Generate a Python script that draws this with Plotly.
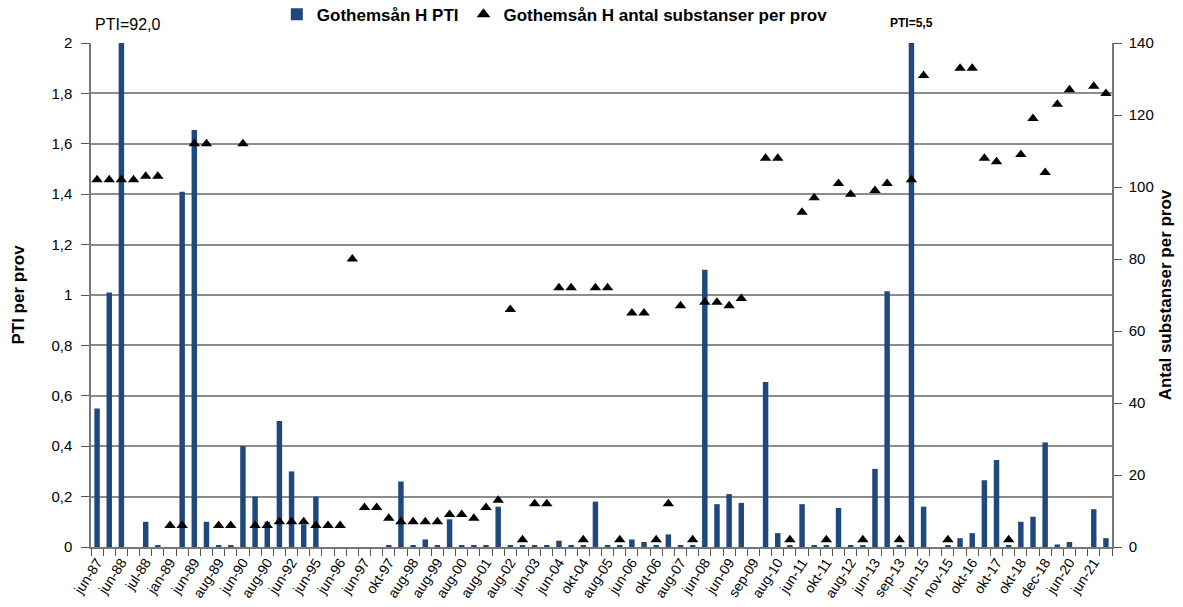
import plotly.graph_objects as go

categories = [
    "jun-87", "aug-87", "jun-88", "jun-88 (2)", "jul-88", "aug-88", "jan-89", "maj-89",
    "jun-89", "jul-89", "aug-89", "sep-89", "jun-90", "jul-90", "aug-90", "sep-90",
    "jun-92", "aug-92", "jun-95", "aug-95", "jun-96", "aug-96", "jun-97", "aug-97",
    "okt-97", "jun-98", "aug-98", "jun-99", "aug-99", "jun-00", "aug-00", "jun-01",
    "aug-01", "jun-02", "aug-02", "okt-02", "jun-03", "aug-03", "jun-04", "aug-04",
    "okt-04", "jun-05", "aug-05", "okt-05", "jun-06", "aug-06", "okt-06", "jun-07",
    "aug-07", "okt-07", "jun-08", "aug-08", "jun-09", "aug-09", "sep-09", "jun-10",
    "aug-10", "okt-10", "jun-11", "aug-11", "okt-11", "jun-12", "aug-12", "okt-12",
    "jun-13", "aug-13", "sep-13", "jun-14", "jun-15", "aug-15", "nov-15", "jun-16",
    "okt-16", "jun-17", "okt-17", "jun-18", "okt-18", "nov-18", "dec-18", "jun-19",
    "jun-20", "okt-20", "jun-21", "aug-21",
]

# tick labels shown on the axis (every other sample)
tick_labels = [c if i % 2 == 0 else "" for i, c in enumerate(categories)]

pti = [
    0.55, 1.01, 92.0, None, 0.10, 0.005, None, 1.41,
    1.655, 0.10, 0.005, 0.004, 0.40, 0.20, 0.10, 0.50,
    0.30, 0.09, 0.20, None, None, None, None, None,
    0.005, 0.26, 0.005, 0.03, 0.005, 0.11, 0.005, 0.005,
    0.005, 0.16, 0.005, 0.005, 0.005, 0.005, 0.025, 0.005,
    0.005, 0.18, 0.005, 0.005, 0.03, 0.02, 0.005, 0.05,
    0.004, 0.005, 1.10, 0.17, 0.21, 0.175, None, 0.655,
    0.055, 0.005, 0.17, 0.005, 0.005, 0.155, 0.004, 0.005,
    0.31, 1.015, 0.005, 5.5, 0.16, None, 0.005, 0.035,
    0.055, 0.265, 0.345, 0.005, 0.10, 0.12, 0.415, 0.01,
    0.02, None, 0.15, 0.035,
]

antal = [
    102, 102, 102, 102, 103, 103, 6, 6,
    112, 112, 6, 6, 112, 6, 6, 7,
    7, 7, 6, 6, 6, 80, 11, 11,
    8, 7, 7, 7, 7, 9, 9, 8,
    11, 13, 66, 2, 12, 12, 72, 72,
    2, 72, 72, 2, 65, 65, 2, 12,
    67, 2, 68, 68, 67, 69, None, 108,
    108, 2, 93, 97, 2, 101, 98, 2,
    99, 101, 2, 102, 131, None, 2, 133,
    133, 108, 107, 2, 109, 119, 104, 123,
    127, None, 128, 126,
]

FONT = "Liberation Sans, Arial, sans-serif"
GRID = "#8c8c8c"

fig = go.Figure()
fig.add_trace(go.Bar(
    x=categories, y=pti, name="<b>Gothemsån H PTI</b>",
    marker=dict(color="#1F497D", line=dict(width=0)),
    width=0.45, yaxis="y",
))
fig.add_trace(go.Scatter(
    x=categories, y=antal, name="<b>Gothemsån H antal substanser per prov</b>",
    mode="markers", marker=dict(symbol="triangle-up", size=10, color="black"),
    yaxis="y2", cliponaxis=False,
))

fig.update_layout(
    width=1183, height=607, autosize=False,
    margin=dict(l=91, r=71, t=43, b=60, autoexpand=False),
    paper_bgcolor="white", plot_bgcolor="white",
    separators=", ",
    font=dict(family=FONT, size=15, color="black"),
    showlegend=True,
    legend=dict(
        orientation="h", x=0.182, y=1.056, xanchor="left", yanchor="middle",
        font=dict(family=FONT, size=17, color="black"),
        bgcolor="rgba(0,0,0,0)", itemsizing="constant",
    ),
    xaxis=dict(
        type="category", range=[-0.5, len(categories) - 0.5],
        tickmode="array", tickvals=categories, ticktext=tick_labels,
        tickson="boundaries", ticks="outside", ticklen=7, tickcolor="#555",
        tickangle=-57, tickfont=dict(size=14),
        showline=True, linecolor="#777", linewidth=1.5, showgrid=False,
    ),
    yaxis=dict(
        range=[0, 2], dtick=0.2, tick0=0,
        showgrid=True, gridcolor=GRID, gridwidth=1.5,
        showline=True, linecolor="#777", linewidth=1.5,
        ticks="outside", ticklen=8, tickcolor="#555", ticklabelstandoff=6,
        tickfont=dict(size=15), zeroline=False,
        title=dict(text="<b>PTI per prov</b>", font=dict(size=17), standoff=22),
    ),
    yaxis2=dict(
        range=[0, 140], dtick=20, tick0=0,
        overlaying="y", side="right", showgrid=False,
        showline=True, linecolor="#777", linewidth=1.5,
        ticks="outside", ticklen=8, tickcolor="#555", ticklabelstandoff=4,
        tickfont=dict(size=15), zeroline=False,
        title=dict(text="<b>Antal substanser per prov</b>", font=dict(size=17), standoff=6),
    ),
    bargap=0.55,
    annotations=[
        dict(text="PTI=92,0", xref="paper", yref="paper", x=0.002, y=1.036,
             xanchor="left", yanchor="middle", showarrow=False,
             font=dict(family=FONT, size=16, color="black")),
        dict(text="<b>PTI=5,5</b>", xref="x", yref="paper", x=categories[67], y=1.04,
             xanchor="center", yanchor="middle", showarrow=False,
             font=dict(family=FONT, size=12, color="black")),
    ],
)

fig.write_html(
    "out.html",
    config={"displayModeBar": False},
    post_script="document.body.style.margin='0px';document.body.style.overflow='hidden';",
)
